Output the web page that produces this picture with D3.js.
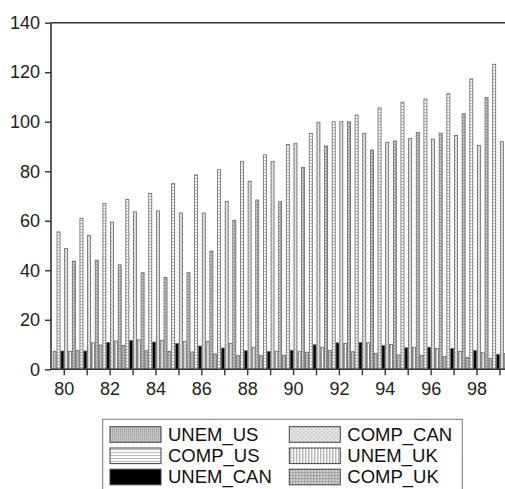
<!DOCTYPE html>
<html>
<head>
<meta charset="utf-8">
<script src="https://cdn.jsdelivr.net/npm/d3@7"></script>
<style>
  body { margin: 0; background: #fff; }
  svg { display: block; font-family: 'Liberation Sans', Arial, sans-serif; }
</style>
</head>
<body>
<div id="chart"></div>
<script>
// annual values 1980-1999
const years = d3.range(1980, 2000);
const unemUS = [7.2, 7.6, 9.8, 9.6, 7.5, 7.2, 7.0, 6.2, 5.5, 5.5, 5.7, 6.9, 7.6, 7.1, 6.4, 5.8, 5.6, 5.2, 4.8, 4.3];
const compUS = [55.5, 61.0, 67.0, 68.6, 71.0, 75.0, 78.5, 80.6, 84.0, 86.6, 90.8, 95.3, 100, 102.7, 105.6, 107.9, 109.2, 111.3, 117.3, 123.2];
const unemCAN = [7.4, 7.4, 10.8, 11.6, 11.0, 10.4, 9.4, 8.6, 7.5, 7.2, 7.7, 9.9, 10.7, 10.8, 9.6, 8.7, 8.9, 8.4, 7.6, 6.0];
const compCAN = [48.8, 54.0, 59.5, 63.6, 64.0, 63.2, 63.1, 67.8, 76.0, 84.0, 91.3, 99.8, 100, 95.3, 91.7, 93.3, 93.0, 94.4, 90.4, 91.9];
const unemUK = [7.2, 10.7, 11.4, 11.9, 11.7, 11.2, 11.2, 10.4, 8.8, 7.3, 7.1, 8.9, 10.4, 10.7, 10.0, 8.9, 8.4, 7.2, 6.7, 6.4];
const compUK = [43.7, 44.1, 42.2, 39.0, 37.1, 39.0, 47.8, 60.2, 68.4, 67.7, 81.6, 90.2, 100, 88.6, 92.2, 95.7, 95.4, 103.2, 109.8, 116.0];

const seriesNames = ['UNEM_US', 'COMP_US', 'UNEM_CAN', 'COMP_CAN', 'UNEM_UK', 'COMP_UK'];
const seriesValues = [unemUS, compUS, unemCAN, compCAN, unemUK, compUK];
const yTicks = [0, 20, 40, 60, 80, 100, 120, 140];

const width = 505, height = 489;
const plotLeft = 51, plotRight = 513, plotTop = 22.7, plotBottom = 369.3;

const svg = d3.select('#chart')
  .append('svg')
  .attr('width', width)
  .attr('height', height);

// fill patterns, one per series
const defs = svg.append('defs');
function pattern(id, size, bg, draw) {
  const p = defs.append('pattern')
    .attr('id', id)
    .attr('patternUnits', 'userSpaceOnUse')
    .attr('width', size)
    .attr('height', size);
  p.append('rect').attr('width', size).attr('height', size).attr('fill', bg);
  draw(p);
}
pattern('p0', 2, '#c8c8c8', p => {
  p.append('rect').attr('width', 1).attr('height', 1).attr('fill', '#8e8e8e');
});
pattern('p1', 3, '#fafafa', p => {
  p.append('rect').attr('y', 1).attr('width', 3).attr('height', 1).attr('fill', '#bcbcbc');
});
pattern('p2', 2, '#000', p => {});
pattern('p3', 4, '#e2e2e2', p => {
  p.append('rect').attr('x', 0).attr('y', 0).attr('width', 1).attr('height', 1).attr('fill', '#a8a8a8');
  p.append('rect').attr('x', 2).attr('y', 2).attr('width', 1).attr('height', 1).attr('fill', '#a8a8a8');
});
pattern('p4', 3, '#fafafa', p => {
  p.append('rect').attr('x', 1).attr('width', 1).attr('height', 3).attr('fill', '#9a9a9a');
});
pattern('p5', 3, '#dadada', p => {
  p.append('rect').attr('width', 3).attr('height', 1).attr('fill', '#9c9c9c');
  p.append('rect').attr('width', 1).attr('height', 3).attr('fill', '#9c9c9c');
});

// scales
const x = d3.scaleBand()
  .domain(years)
  .range([52.8, 52.8 + 20 * 22.93])
  .padding(0);

const xSub = d3.scaleBand()
  .domain(seriesNames)
  .range([0, x.bandwidth()])
  .padding(0);

const y = d3.scaleLinear().domain([0, 140]).range([plotBottom, plotTop]);

// bars
svg.append('g')
  .selectAll('g')
  .data(years)
  .join('g')
  .attr('transform', d => `translate(${x(d)},0)`)
  .selectAll('rect')
  .data((d, i) => seriesNames.map((key, s) => ({ key: key, s: s, value: seriesValues[s][i] })))
  .join('rect')
  .attr('x', d => xSub(d.key) + 0.4)
  .attr('y', d => y(d.value))
  .attr('width', xSub.bandwidth() - 0.8)
  .attr('height', d => plotBottom - y(d.value))
  .attr('fill', d => `url(#p${d.s})`)
  .attr('stroke', '#666')
  .attr('stroke-width', 0.8);

// frame
const frame = svg.append('g').attr('stroke', '#333').attr('stroke-width', 1.6).attr('fill', 'none');
frame.append('line').attr('x1', plotLeft).attr('x2', plotRight).attr('y1', plotTop).attr('y2', plotTop);
frame.append('line').attr('x1', plotLeft).attr('x2', plotRight).attr('y1', plotBottom).attr('y2', plotBottom);
frame.append('line').attr('x1', plotLeft).attr('x2', plotLeft).attr('y1', plotTop).attr('y2', plotBottom);
frame.append('line').attr('x1', plotRight).attr('x2', plotRight).attr('y1', plotTop).attr('y2', plotBottom);

// y axis
const yAxis = svg.append('g')
  .attr('transform', `translate(${plotLeft},0)`)
  .call(d3.axisLeft(y).tickValues(yTicks).tickSizeInner(6).tickSizeOuter(0).tickPadding(5));
yAxis.select('.domain').remove();
yAxis.selectAll('line').attr('stroke', '#333').attr('stroke-width', 1.4);
yAxis.selectAll('text').attr('font-size', 18).attr('fill', '#222')
  .attr('font-family', "'Liberation Sans', Arial, sans-serif");

// x axis
const xAxis = svg.append('g')
  .attr('transform', `translate(0,${plotBottom})`)
  .call(d3.axisBottom(x)
    .tickSizeInner(6).tickSizeOuter(0).tickPadding(7)
    .tickFormat(d => d % 2 === 0 ? String(d).slice(2) : ''));
xAxis.select('.domain').remove();
xAxis.selectAll('line').attr('stroke', '#333').attr('stroke-width', 1.4);
xAxis.selectAll('text').attr('font-size', 18).attr('fill', '#222')
  .attr('font-family', "'Liberation Sans', Arial, sans-serif");

// legend
const legend = svg.append('g');
legend.append('rect')
  .attr('x', 102.7).attr('y', 419.3)
  .attr('width', 359.6).attr('height', 90)
  .attr('fill', '#fff')
  .attr('stroke', '#777')
  .attr('stroke-width', 1);

const legendCols = [110, 289.3];
const legendRows = [426.7, 448, 469.2];
const items = legend.selectAll('g.item')
  .data(seriesNames)
  .join('g')
  .attr('class', 'item')
  .attr('transform', (d, i) => `translate(${legendCols[Math.floor(i / 3)]},${legendRows[i % 3]})`);
items.append('rect')
  .attr('width', 51).attr('height', 15.6)
  .attr('fill', (d, i) => `url(#p${i})`)
  .attr('stroke', '#444')
  .attr('stroke-width', 1);
items.append('text')
  .attr('x', 58)
  .attr('y', 14)
  .attr('font-size', 18.5)
  .attr('fill', '#111')
  .text(d => d);
</script>
</body>
</html>
